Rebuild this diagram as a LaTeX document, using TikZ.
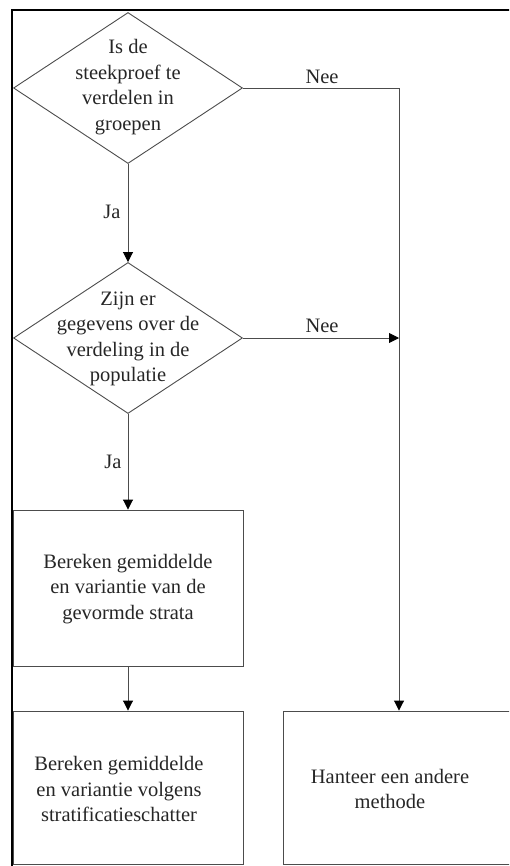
\documentclass[tikz,border=0pt]{standalone}
\usepackage{fontspec}
\setmainfont{Liberation Serif}
\usetikzlibrary{shapes.geometric,arrows.meta}
\begin{document}
\begin{tikzpicture}[x=1pt,y=-1pt,
  flow/.style={draw=black!70, line width=0.9pt},
  decision/.style={flow, diamond, inner sep=0pt, minimum width=229pt, minimum height=151pt},
  stepbox/.style={flow, rectangle, inner sep=0pt},
  txt/.style={align=center, text=black!85, font=\fontsize{20.5}{25.5}\selectfont},
  lbl/.style={text=black!85, font=\fontsize{20.5}{24}\selectfont, inner sep=0pt},
  arr/.style={flow, -{Triangle[length=10pt,width=10pt,color=black]}}
]
\useasboundingbox (0,0) rectangle (509,866);
\clip (0,0) rectangle (509,866);

% outer frame
\draw[black, line width=1.6pt] (12,880) -- (12,10) -- (520,10);

% decisions
\node[decision] (d1) at (128,88) {};
\node[txt] (t1) at (128,87) {Is de\\steekproef te\\verdelen in\\groepen};
\node[decision] (d2) at (128,338) {};
\node[txt] (t2) at (128,339) {Zijn er\\gegevens over de\\verdeling in de\\populatie};

% process boxes
\node[stepbox, minimum width=230pt, minimum height=156pt] (b1) at (128,588) {};
\node[txt] (t3) at (128,589) {Bereken gemiddelde\\en variantie van de\\gevormde strata};
\node[stepbox, minimum width=230pt, minimum height=153pt] (b2) at (128,787.5) {};
\node[txt] (t4) at (119,789) {Bereken gemiddelde\\en variantie volgens\\stratificatieschatter};
\node[stepbox, minimum width=260pt, minimum height=153pt] (b3) at (413,787.5) {};
\node[txt] (t5) at (390,789) {Hanteer een andere\\methode};

% junction on the right-hand line
\coordinate (j) at (399,338);

% connectors
\draw[arr] (d1.south) -- (d2.north);
\draw[arr] (d2.south) -- (b1.north);
\draw[arr] (b1.south) -- (b2.north);
\draw[arr] (d1.east) -| (j |- b3.north);
\draw[arr] (d2.east) -- (j);

% branch labels
\node[lbl] (n1) at (322,77) {Nee};
\node[lbl] (n2) at (322,326) {Nee};
\node[lbl] (j1) at (112,212) {Ja};
\node[lbl] (j2) at (113,462) {Ja};
\end{tikzpicture}
\end{document}
